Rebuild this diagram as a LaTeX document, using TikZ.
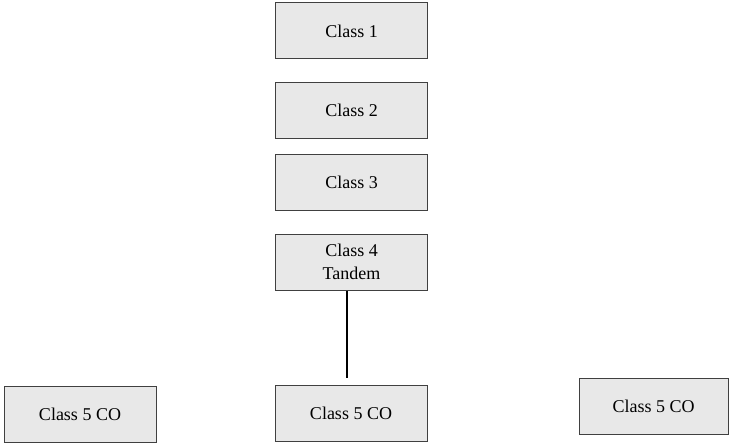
\documentclass[tikz,border=0pt]{standalone}
\usepackage{fontspec}
\setmainfont{Liberation Serif}
\begin{document}
\begin{tikzpicture}[x=1pt,y=-1pt,
  classbox/.style={draw=black!75, fill=black!9, line width=1pt,
    minimum width=152pt, minimum height=56pt, inner sep=0pt,
    align=center, font=\fontsize{18}{23}\selectfont},
  link/.style={draw=black, line width=2pt}]
\useasboundingbox (0,0) rectangle (731,444);
\node[classbox] (c1) at (351.5,31) {Class 1};
\node[classbox] (c2) at (351.5,110.5) {Class 2};
\node[classbox] (c3) at (351.5,182.5) {Class 3};
\node[classbox] (c4) at (351.5,262) {Class 4\\Tandem};
\node[classbox] (c5a) at (80,414.5) {Class 5 CO};
\node[classbox] (c5b) at (351,413.5) {Class 5 CO};
\node[classbox, minimum width=149pt] (c5c) at (653.5,406.5) {Class 5 CO};
\coordinate (tail) at (347,378);
\draw[link] (c4.south -| tail) -- (tail);
\end{tikzpicture}
\end{document}
